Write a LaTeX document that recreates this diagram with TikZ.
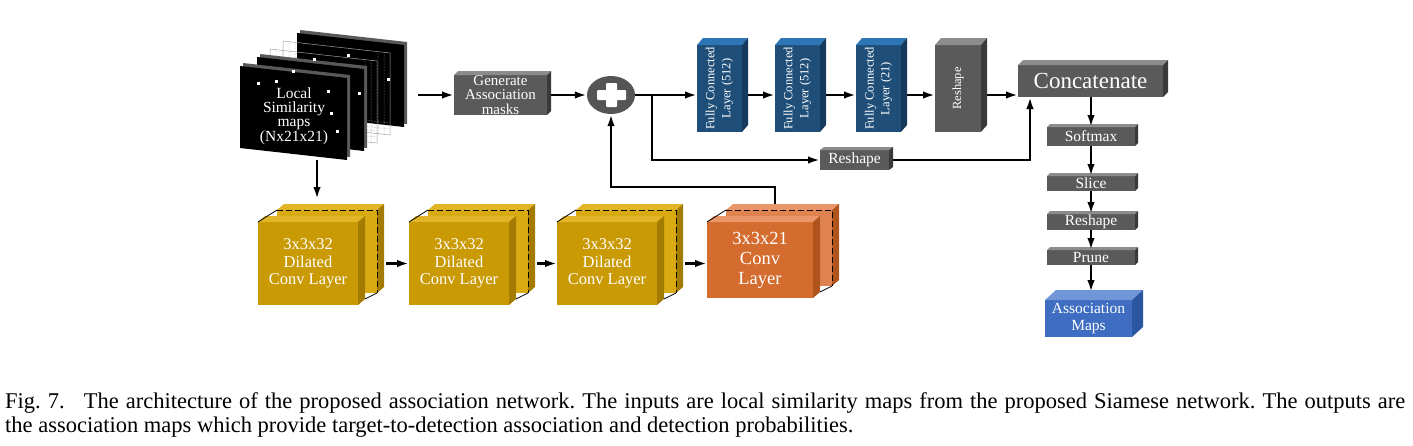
\documentclass[tikz,border=0pt]{standalone}
\usepackage{fontspec}
\setmainfont{Liberation Serif}
\usetikzlibrary{arrows.meta,calc,shapes.geometric}
\definecolor{gfront}{HTML}{5A5A5A}
\definecolor{gtop}{HTML}{8C8C8C}
\definecolor{gside}{HTML}{3A3A3A}
\definecolor{bfront}{HTML}{1F4E79}
\definecolor{btop}{HTML}{2E75B6}
\definecolor{bside}{HTML}{163A5E}
\definecolor{yfront}{HTML}{C99A03}
\definecolor{ytop}{HTML}{E2B428}
\definecolor{yside}{HTML}{A27B00}
\definecolor{yback}{HTML}{D9AA12}
\definecolor{ofront}{HTML}{D36C2E}
\definecolor{otop}{HTML}{EA9668}
\definecolor{oside}{HTML}{B0541E}
\definecolor{oback}{HTML}{DE8350}
\definecolor{afront}{HTML}{3E6DC1}
\definecolor{atop}{HTML}{7196D8}
\definecolor{aside}{HTML}{2B56A2}
\definecolor{pgray}{HTML}{555555}
\definecolor{wire}{HTML}{A0A0A0}

\newcommand\boxfaces[5]{%
  \fill[#4] (#1.north west) -- ++(#2,-#3) -- ($(#1.north east)+(#2,-#3)$) -- (#1.north east) -- cycle;
  \fill[#5] (#1.north east) -- ($(#1.north east)+(#2,-#3)$) -- ($(#1.south east)+(#2,-#3)$) -- (#1.south east) -- cycle;
  \coordinate (#1-r) at ($(#1.east)+(#2,0)$);}

\newcommand\sheet[2]{%
  \fill[black!65] ($(#1,#2)+(3,-3)$) -- ++(107,12) -- ++(0,82) -- ++(-107,-12) -- cycle;
  \fill[black] (#1,#2) -- ++(107,12) -- ++(0,82) -- ++(-107,-12) -- cycle;}

\newcommand\wiresheet[2]{%
  \draw[wire, line width=0.5pt] (#1,#2) -- ++(107,12) -- ++(0,82) -- ++(-107,-12) -- cycle;
  \draw[wire, line width=0.5pt, densely dotted] ($(#1,#2)+(6,0.7)$) -- ++(0,82) ($(#1,#2)+(12,1.4)$) -- ++(0,82)
     ($(#1,#2)+(95,10.6)$) -- ++(0,82) ($(#1,#2)+(101,11.3)$) -- ++(0,82)
     ($(#1,#2)+(0,70)$) -- ++(107,12) ($(#1,#2)+(0,76)$) -- ++(107,12);}

\newcommand\convblock[9]{%
  \node[front, fill=#9, minimum width=#4, minimum height=#5] (b#1) at (#2+19,#3-12) {};
  \boxfaces{b#1}{7}{6}{#7}{#8}
  \draw[line width=1pt, dash pattern=on 6pt off 3pt] (b#1.north west) -- (b#1.north east) -- (b#1.south east);
  \node[front, fill=#6, minimum width=#4, minimum height=#5] (f#1) at (#2,#3) {};
  \boxfaces{f#1}{7}{6}{#7}{#8}
  \draw[line width=0.8pt] (f#1.north west) -- (b#1.north west);
  \draw[line width=0.8pt] ($(f#1.south east)+(7,-6)$) -- (b#1.south east);}

\tikzset{
  front/.style={anchor=north west, inner sep=0pt, outer sep=0pt},
  lbl/.style={text=white, align=center, inner sep=0pt},
  arr/.style={-{Latex[length=12pt,width=7.5pt]}, line width=2.6pt},
  ln/.style={line width=2.6pt},
}

\begin{document}
\begin{tikzpicture}[x=1pt,y=-1pt]
\useasboundingbox (0,0) rectangle (1413,445);

% ---------- local similarity maps stack ----------
\sheet{297}{33}
\wiresheet{283}{41}
\wiresheet{270}{49}
\sheet{257}{57}
\sheet{240}{66}
\foreach \p in {(313,58),(347,54),(387,78),(292,70),(358,92),(257,82),(275,80),(327,90),(330,112),(336,130)}
  \fill[white] \p rectangle ++(3,3);
\node[lbl, font=\fontsize{15.5}{14.3}\selectfont] (lsm) at (294,116) {Local\\Similarity\\maps\\(Nx21x21)};
\coordinate (s1) at (418,95);
\coordinate (s2) at (317,160);
\coordinate (s2e) at (317,199);

% ---------- generate association masks ----------
\node[front, fill=gfront, minimum width=93, minimum height=40] (gen) at (454,75) {};
\boxfaces{gen}{4}{4}{gtop}{gside}
\node[lbl, font=\fontsize{15}{14.5}\selectfont] (gent) at (gen.center) {Generate\\Association\\masks};

% ---------- plus ----------
\node[ellipse, fill=pgray, minimum width=48, minimum height=38, inner sep=0pt] (plus) at (611,95) {};
\fill[white, rounded corners=1pt] (606,83) rectangle (617,107);
\fill[white, rounded corners=1pt] (597,90) rectangle (626,100);
\coordinate (j) at (652,95);

% ---------- fully connected ----------
\node[front, fill=bfront, minimum width=45, minimum height=87] (fc1) at (697,45) {};
\boxfaces{fc1}{6}{7}{btop}{bside}
\node[lbl, rotate=90, font=\fontsize{12.5}{16}\selectfont] (fc1t) at (fc1.center) {Fully Connected\\Layer (512)};
\node[front, fill=bfront, minimum width=45, minimum height=87] (fc2) at (775,45) {};
\boxfaces{fc2}{6}{7}{btop}{bside}
\node[lbl, rotate=90, font=\fontsize{12.5}{16}\selectfont] (fc2t) at (fc2.center) {Fully Connected\\Layer (512)};
\node[front, fill=bfront, minimum width=45, minimum height=87] (fc3) at (856,45) {};
\boxfaces{fc3}{6}{7}{btop}{bside}
\node[lbl, rotate=90, font=\fontsize{12.5}{16}\selectfont] (fc3t) at (fc3.center) {Fully Connected\\Layer (21)};
\node[front, fill=gfront, minimum width=46, minimum height=87] (rs1) at (935,45) {};
\boxfaces{rs1}{6}{7}{gtop}{gside}
\node[lbl, rotate=90, font=\fontsize{12.5}{16}\selectfont] (rs1t) at (rs1.center) {Reshape};

% ---------- reshape (middle) ----------
\node[front, fill=gfront, minimum width=69, minimum height=20] (rs2) at (820,150) {};
\boxfaces{rs2}{4}{3}{gtop}{gside}
\node[lbl, font=\fontsize{15.5}{15}\selectfont] (rs2t) at (rs2.center) {Reshape};

% ---------- concatenate and right column ----------
\node[front, fill=gfront, minimum width=145, minimum height=32] (cat) at (1018,65) {};
\boxfaces{cat}{5}{5}{gtop}{gside}
\node[lbl, font=\fontsize{23}{24}\selectfont] (catt) at (cat.center) {Concatenate};
\coordinate (cin) at (1030,97);

\node[front, fill=gfront, minimum width=88, minimum height=19] (soft) at (1047,127) {};
\boxfaces{soft}{3}{3}{gtop}{gside}
\node[lbl, font=\fontsize{15.5}{15}\selectfont] (softt) at (soft.center) {Softmax};
\node[front, fill=gfront, minimum width=88, minimum height=15] (slice) at (1047,176) {};
\boxfaces{slice}{3}{3}{gtop}{gside}
\node[lbl, font=\fontsize{15.5}{15}\selectfont] (slicet) at (slice.center) {Slice};
\node[front, fill=gfront, minimum width=88, minimum height=16] (rs3) at (1047,214) {};
\boxfaces{rs3}{3}{3}{gtop}{gside}
\node[lbl, font=\fontsize{15.5}{15}\selectfont] (rs3t) at (rs3.center) {Reshape};
\node[front, fill=gfront, minimum width=88, minimum height=15] (prune) at (1047,250) {};
\boxfaces{prune}{3}{3}{gtop}{gside}
\node[lbl, font=\fontsize{15.5}{15}\selectfont] (prunet) at (prune.center) {Prune};
\node[front, fill=afront, minimum width=87, minimum height=37] (am) at (1045,300) {};
\boxfaces{am}{11}{10}{atop}{aside}
\node[lbl, font=\fontsize{15.5}{17}\selectfont] (amt) at (am.center) {Association\\Maps};
\coordinate (amin) at (1091,292);

% ---------- conv blocks ----------
\convblock{1}{258}{222}{100}{83}{yfront}{ytop}{yside}{yback}
\node[lbl, font=\fontsize{16.5}{17.5}\selectfont] (t1) at (f1.center) {3x3x32\\Dilated\\Conv Layer};
\convblock{2}{409}{222}{100}{83}{yfront}{ytop}{yside}{yback}
\node[lbl, font=\fontsize{16.5}{17.5}\selectfont] (t2) at (f2.center) {3x3x32\\Dilated\\Conv Layer};
\convblock{3}{557}{222}{100}{83}{yfront}{ytop}{yside}{yback}
\node[lbl, font=\fontsize{16.5}{17.5}\selectfont] (t3) at (f3.center) {3x3x32\\Dilated\\Conv Layer};
\convblock{4}{707}{222}{106}{76}{ofront}{otop}{oside}{oback}
\node[lbl, font=\fontsize{18.5}{20}\selectfont] (t4) at (f4.center) {3x3x21\\Conv\\Layer};
\coordinate (o4) at (775,204);

% ---------- connectors ----------
\draw[arr] (s1) -- (gen.west |- s1);
\draw[arr] (s2) -- (s2e);
\draw[arr] (gen-r) -- (plus.west);
\draw[ln] (plus.east) -- (j);
\draw[arr] (j) -- (fc1.west |- j);
\draw[arr] (fc1-r |- j) -- (fc2.west |- j);
\draw[arr] (fc2-r |- j) -- (fc3.west |- j);
\draw[arr] (fc3-r |- j) -- (rs1.west |- j);
\draw[arr] (rs1-r |- j) -- (cat.west |- j);
\draw[arr] (j) |- (rs2.west);
\draw[arr] (rs2-r) -| (cin);
\draw[arr] (o4) -- ++(0,-17) -| (plus.south);
\coordinate (a1) at ($(b1-r)+(2,0)$);
\coordinate (a2) at ($(b2-r)+(2,0)$);
\coordinate (a3) at ($(b3-r)+(2,0)$);
\draw[arr] (a1 |- f1.center) -- (f2.west);
\draw[arr] (a2 |- f2.center) -- (f3.west);
\draw[arr] (a3 |- f3.center) -- (f4.west |- f3.center);
\draw[arr] (soft.north |- cat.south) -- (soft.north);
\draw[arr] (soft.south) -- (slice.north);
\draw[arr] (slice.south) -- (rs3.north);
\draw[arr] (rs3.south) -- (prune.north);
\draw[arr] (prune.south) -- (prune.south |- amin);

% ---------- caption ----------
\node[anchor=north west, text width=1400, align=justify, inner sep=0pt,
      font=\fontsize{22.5}{24.5}\selectfont] (cap) at (5,392)
{\frenchspacing Fig. 7.\hspace{0.85em}The architecture of the proposed association network. The inputs are local similarity maps from the proposed Siamese network. The outputs are\linebreak the association maps which provide target-to-detection association and detection probabilities.};
\end{tikzpicture}
\end{document}
